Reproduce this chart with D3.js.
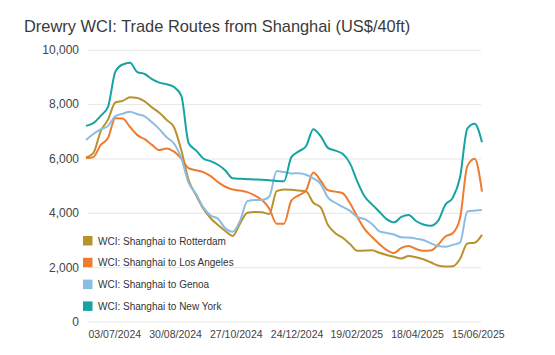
<!DOCTYPE html>
<html>
<head>
<meta charset="utf-8">
<script src="https://cdn.jsdelivr.net/npm/d3@7"></script>
<style>
  body { margin: 0; background: #fff; }
  text { font-family: "Liberation Sans", Arial, sans-serif; }
</style>
</head>
<body>
<div id="chart"></div>
<script>
// weekly WCI readings (Thursdays), US$/40ft
const dates = [
  "2024-06-06","2024-06-13","2024-06-20","2024-06-27","2024-07-04","2024-07-11","2024-07-18","2024-07-25",
  "2024-08-01","2024-08-08","2024-08-15","2024-08-22","2024-08-29","2024-09-05","2024-09-12","2024-09-19",
  "2024-09-26","2024-10-03","2024-10-10","2024-10-17","2024-10-24","2024-10-31","2024-11-07","2024-11-14",
  "2024-11-21","2024-11-28","2024-12-05","2024-12-12","2024-12-19","2024-12-26","2025-01-02","2025-01-09",
  "2025-01-16","2025-01-23","2025-01-30","2025-02-06","2025-02-13","2025-02-20","2025-02-27","2025-03-06",
  "2025-03-13","2025-03-20","2025-03-27","2025-04-03","2025-04-10","2025-04-17","2025-04-24","2025-05-01",
  "2025-05-08","2025-05-15","2025-05-22","2025-05-29","2025-06-05","2025-06-12","2025-06-19"
];

const rotterdam = [6040,6200,7000,7430,8060,8120,8250,8230,8100,7880,7680,7420,7150,6300,5200,4650,
  4150,3800,3550,3330,3150,3600,4000,4030,4020,3960,4800,4860,4850,4820,4790,4370,
  4200,3550,3250,3080,2850,2600,2610,2620,2530,2450,2380,2320,2410,2365,2290,2180,
  2060,2020,2030,2300,2870,2900,3190];

const losAngeles = [6010,6050,6500,6750,7480,7470,7160,6860,6710,6500,6310,6370,6250,6000,5640,5570,
  5500,5350,5130,4960,4860,4820,4760,4640,4470,4150,3600,3600,4450,4640,4820,5480,
  5180,4830,4780,4720,4350,3850,3400,3110,2850,2630,2520,2710,2780,2670,2600,2610,
  2820,3130,3250,3800,5720,5990,4780];

const genoa = [6680,6900,7070,7200,7560,7650,7720,7630,7550,7330,7080,6780,6550,6000,5100,4700,
  4200,3900,3780,3430,3300,3700,4430,4470,4470,4600,5540,5500,5450,5455,5400,5270,
  5060,4560,4370,4220,4070,3850,3765,3590,3320,3260,3200,3100,3090,3050,3000,2880,
  2775,2750,2820,2900,4050,4080,4100];

const newYork = [7200,7300,7570,7900,9190,9460,9520,9180,9110,8920,8790,8730,8630,8300,6560,6300,
  6000,5900,5770,5560,5270,5250,5240,5230,5220,5200,5170,5160,6050,6260,6450,7080,
  6820,6390,6290,6170,5820,5150,4600,4310,4040,3770,3650,3850,3920,3700,3570,3520,
  3700,4300,4550,5300,7100,7280,6600];

const seriesNames = ["WCI: Shanghai to Rotterdam", "WCI: Shanghai to Los Angeles",
  "WCI: Shanghai to Genoa", "WCI: Shanghai to New York"];
const seriesColors = ["#b8922f", "#ef7b30", "#8bbde2", "#17a3a3"];

const xTickLabels = ["03/07/2024","30/08/2024","27/10/2024","24/12/2024","19/02/2025","18/04/2025","15/06/2025"];
const yTicks = [0, 2000, 4000, 6000, 8000, 10000];

const width = 555, height = 355;
const parse = d3.timeParse("%Y-%m-%d");
const parseTick = d3.timeParse("%d/%m/%Y");
const dateVals = dates.map(parse);

const svg = d3.select("#chart")
  .append("svg")
    .attr("width", width)
    .attr("height", height);

// title
svg.append("text")
  .attr("x", 24)
  .attr("y", 32)
  .attr("font-size", 16.4)
  .attr("fill", "#3a3a3a")
  .text("Drewry WCI: Trade Routes from Shanghai (US$/40ft)");

const x = d3.scaleTime()
  .domain(d3.extent(dateVals))
  .range([86, 482]);

const y = d3.scaleLinear()
  .domain([0, 10000])
  .range([321.5, 49.8]);

// gridlines + y labels
const yAxis = svg.append("g")
  .attr("transform", "translate(88,0)")
  .call(d3.axisLeft(y).tickValues(yTicks).tickSize(-393).tickFormat(d3.format(",")).tickPadding(9));
yAxis.select(".domain").remove();
yAxis.selectAll(".tick line").attr("stroke", "#e6e6e6");
yAxis.selectAll(".tick text").attr("font-size", 12).attr("fill", "#444")
  .style("font-family", '"Liberation Sans", Arial, sans-serif');

// x labels
const xAxis = svg.append("g")
  .attr("transform", "translate(0,322)")
  .call(d3.axisBottom(x).tickValues(xTickLabels.map(parseTick)).tickSize(0).tickPadding(9)
    .tickFormat(d3.timeFormat("%d/%m/%Y")));
xAxis.select(".domain").remove();
xAxis.selectAll(".tick text").attr("font-size", 10.5).attr("fill", "#444")
  .style("font-family", '"Liberation Sans", Arial, sans-serif');

// lines
const allSeries = [rotterdam, losAngeles, genoa, newYork];
const line = d3.line()
  .x((d, i) => x(dateVals[i]))
  .y(d => y(d))
  .curve(d3.curveMonotoneX);

allSeries.forEach((s, k) => {
  svg.append("path")
    .datum(s)
    .attr("fill", "none")
    .attr("stroke", seriesColors[k])
    .attr("stroke-width", 2)
    .attr("stroke-linejoin", "round")
    .attr("d", line);
});

// legend
const legend = svg.append("g").attr("transform", "translate(83,236)");
seriesNames.forEach((name, k) => {
  const row = legend.append("g").attr("transform", `translate(0,${k * 21.8})`);
  row.append("rect")
    .attr("width", 9.5).attr("height", 9.5)
    .attr("fill", seriesColors[k]);
  row.append("text")
    .attr("x", 15).attr("y", 8.5)
    .attr("font-size", 10)
    .attr("fill", "#333")
    .text(name);
});
</script>
</body>
</html>
